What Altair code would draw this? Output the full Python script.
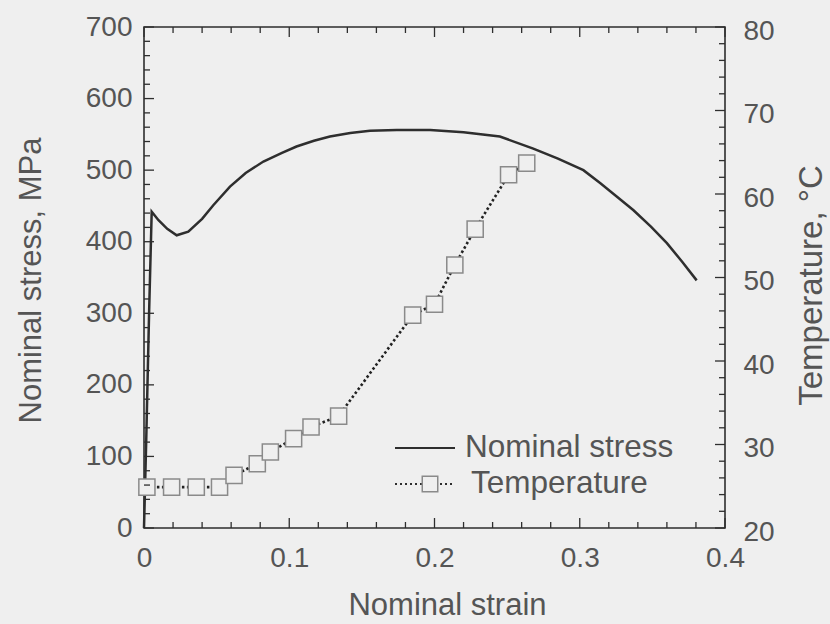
import altair as alt
import pandas as pd

# ---- data ----
strain_s = [0.0, 0.0015, 0.0035, 0.0053, 0.010, 0.016, 0.0225, 0.0305, 0.040, 0.0477,
            0.0592, 0.070, 0.0822, 0.095, 0.105, 0.117, 0.128, 0.142, 0.1556, 0.174,
            0.197, 0.220, 0.245, 0.268, 0.285, 0.3025, 0.314, 0.325, 0.337, 0.349,
            0.360, 0.3705, 0.3805]
stress = [0, 120, 300, 442, 430, 418, 409, 414, 432, 451,
          477, 496, 512, 524, 533, 541, 547, 552, 555, 556,
          556, 553, 547, 530, 516, 500, 482, 464, 444, 421,
          398, 372, 346]

strain_t = [0.002, 0.019, 0.036, 0.052, 0.062, 0.078, 0.087, 0.103, 0.115, 0.134,
            0.185, 0.200, 0.214, 0.228, 0.251, 0.2635]
temp = [24.9, 24.9, 24.9, 24.9, 26.3, 27.7, 29.1, 30.7, 32.1, 33.4,
        45.5, 46.8, 51.5, 55.8, 62.3, 63.7]

x_major = [0, 0.1, 0.2, 0.3, 0.4]
x_minor = [0.02, 0.04, 0.06, 0.08, 0.12, 0.14, 0.16, 0.18, 0.22, 0.24, 0.26, 0.28,
           0.32, 0.34, 0.36, 0.38]
s_major = [0, 100, 200, 300, 400, 500, 600, 700]
s_minor = [20, 40, 60, 80, 120, 140, 160, 180, 220, 240, 260, 280, 320, 340, 360, 380,
           420, 440, 460, 480, 520, 540, 560, 580, 620, 640, 660, 680]
t_major = [20, 30, 40, 50, 60, 70, 80]
t_minor = [22, 24, 26, 28, 32, 34, 36, 38, 42, 44, 46, 48, 52, 54, 56, 58, 62, 64, 66, 68,
           72, 74, 76, 78]
legend_labels = ["Nominal stress", "Temperature"]

# ---- style ----
W, H = 581, 501
BG = "#efefef"
INK = "#2e2e2e"
TXT = "#555555"
FONT = "Liberation Sans"
MAJ, MIN = 10, 6

xs = alt.Scale(domain=[0, 0.4], nice=False, zero=False)
ys = alt.Scale(domain=[0, 700], nice=False)
yt = alt.Scale(domain=[20, 80], nice=False, zero=False)

# one shared x axis definition, used identically by every layer with an x field
x_axis = alt.Axis(values=x_major, format=".1~f", title="Nominal strain",
                  labelPadding=16, labelFlush=False, titleX=303, titleY=86,
                  titleBaseline="alphabetic", titleAlign="center")

df_s = pd.DataFrame({"strain": strain_s, "stress": stress})
df_t = pd.DataFrame({"strain": strain_t, "temp": temp})

stress_line = alt.Chart(df_s).mark_line(color=INK, strokeWidth=2.5).encode(
    x=alt.X("strain:Q", scale=xs, axis=x_axis, title="Nominal strain"),
    y=alt.Y("stress:Q", scale=ys,
            axis=alt.Axis(orient="left", values=s_major, title="Nominal stress, MPa",
                          labelPadding=12, labelFlush=False, titleAngle=-90, titleX=-104,
                          titleY=253, titleBaseline="alphabetic", titleAlign="center")),
)

temp_line = alt.Chart(df_t).mark_line(color="#222222", strokeWidth=2.6,
                                      strokeDash=[2.5, 2.5]).encode(
    x=alt.X("strain:Q", scale=xs, axis=x_axis, title="Nominal strain"),
    y=alt.Y("temp:Q", scale=yt,
            axis=alt.Axis(orient="right", values=t_major, title="Temperature, °C",
                          labelPadding=18, labelFlush=False, labelOffset=4, titleAngle=-90,
                          titleX=96, titleY=258, titleFontSize=33,
                          titleBaseline="alphabetic", titleAlign="center")),
)
temp_pts = alt.Chart(df_t).mark_square(
    size=260, fill=BG, fillOpacity=1, stroke="#8a8a8a", strokeWidth=1.5, opacity=1).encode(
    x=alt.X("strain:Q", scale=xs, axis=x_axis, title="Nominal strain"),
    y=alt.Y("temp:Q", scale=yt, axis=None),
)


def xticks(vals, length, top):
    d = pd.DataFrame({"v": vals})
    return alt.Chart(d).mark_rule(color=INK, strokeWidth=1.3).encode(
        x=alt.X("v:Q", scale=xs, axis=x_axis, title="Nominal strain"),
        y=alt.value(0 if top else H),
        y2=alt.value(length if top else H - length),
    )


def yticks(vals, length, scale, right):
    d = pd.DataFrame({"v": vals})
    return alt.Chart(d).mark_rule(color=INK, strokeWidth=1.3).encode(
        y=alt.Y("v:Q", scale=scale, axis=None),
        x=alt.value(W if right else 0),
        x2=alt.value(W - length if right else length),
    )


leg_df = pd.DataFrame({"label": legend_labels})
leg_line1 = alt.Chart(leg_df.iloc[[0]]).mark_rule(color=INK, strokeWidth=2).encode(
    x=alt.value(251), x2=alt.value(311), y=alt.value(421))
leg_line2 = alt.Chart(leg_df.iloc[[1]]).mark_rule(
    color=INK, strokeWidth=1.8, strokeDash=[2, 3]).encode(
    x=alt.value(251), x2=alt.value(311), y=alt.value(457))
leg_sq = alt.Chart(leg_df.iloc[[1]]).mark_square(
    size=240, fill=BG, fillOpacity=1, stroke="#8a8a8a", strokeWidth=1.5).encode(
    x=alt.value(286), y=alt.value(457))
leg_txt1 = alt.Chart(leg_df.iloc[[0]]).mark_text(
    align="left", baseline="middle", font=FONT, fontSize=31.5, color=TXT).encode(
    x=alt.value(321), y=alt.value(421), text="label:N")
leg_txt2 = alt.Chart(leg_df.iloc[[1]]).mark_text(
    align="left", baseline="middle", font=FONT, fontSize=31.5, color=TXT).encode(
    x=alt.value(327), y=alt.value(457), text="label:N")

chart = alt.layer(
    stress_line, temp_line, temp_pts,
    xticks(x_major, MAJ, False), xticks(x_minor, MIN, False),
    xticks(x_major, MAJ, True), xticks(x_minor, MIN, True),
    yticks(s_major, MAJ, ys, False), yticks(s_minor, MIN, ys, False),
    yticks(t_major, MAJ, yt, True), yticks(t_minor, MIN, yt, True),
    leg_line1, leg_line2, leg_sq, leg_txt1, leg_txt2,
).resolve_scale(y="independent").properties(
    width=W, height=H, background=BG,
    autosize=alt.AutoSizeParams(type="none"),
    padding={"left": 144, "top": 27, "right": 105, "bottom": 96},
).configure_view(
    stroke=INK, strokeWidth=1.6, fill=BG,
).configure_axis(
    domain=False, ticks=False, grid=False,
    labelFont=FONT, labelFontSize=28, labelColor=TXT,
    titleFont=FONT, titleFontSize=31, titleColor=TXT, titleFontWeight="normal",
)

chart.save("out.html", embed_options={"renderer": "svg", "actions": False})
